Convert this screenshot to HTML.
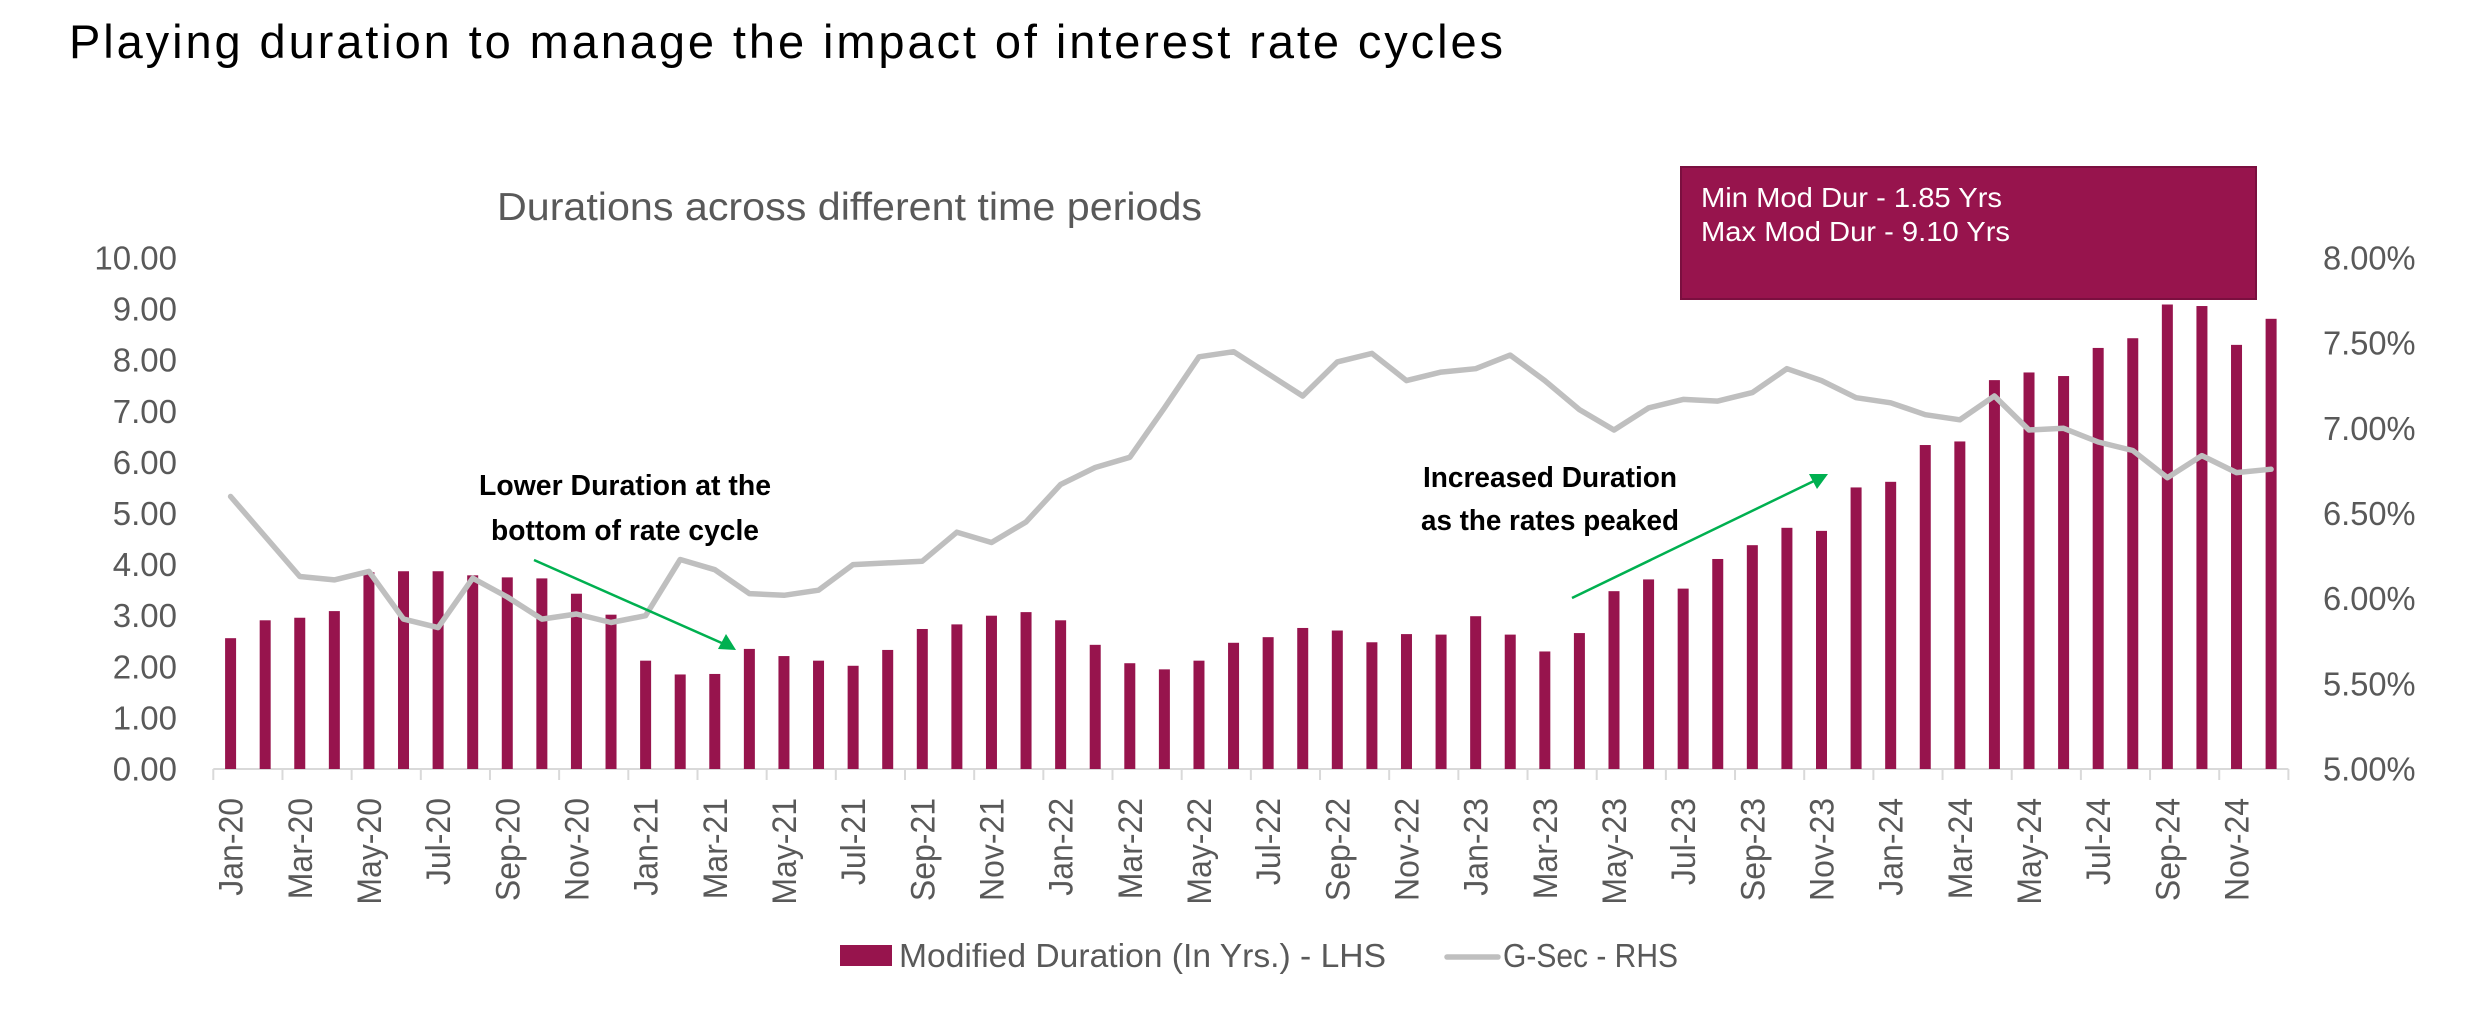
<!DOCTYPE html>
<html lang="en">
<head>
<meta charset="utf-8">
<title>Playing duration to manage the impact of interest rate cycles</title>
<style>
html,body{margin:0;padding:0;background:#fff;width:2490px;height:1020px;overflow:hidden}
svg{display:block}
text{font-family:"Liberation Sans",sans-serif}
</style>
</head>
<body>
<svg id="chart" width="2490" height="1020" viewBox="0 0 2490 1020" xmlns="http://www.w3.org/2000/svg">
  <text x="69" y="58" font-size="47" fill="#000" textLength="1434">Playing duration to manage the impact of interest rate cycles</text>
  <text x="497" y="220" font-size="39" fill="#595959" textLength="705" lengthAdjust="spacingAndGlyphs">Durations across different time periods</text>
  <g id="axes"></g>
  <g id="bars"></g>
  <g id="line"></g>

  <rect x="1681" y="167" width="575" height="132" fill="#97144d" stroke="#7a0f3f" stroke-width="2"/>
  <text x="1701" y="207" font-size="28" fill="#fff" textLength="301" lengthAdjust="spacingAndGlyphs">Min Mod Dur - 1.85 Yrs</text>
  <text x="1701" y="241" font-size="28" fill="#fff" textLength="309" lengthAdjust="spacingAndGlyphs">Max Mod Dur - 9.10 Yrs</text>

  <text x="479" y="495" font-size="29" font-weight="bold" fill="#000" textLength="292" lengthAdjust="spacingAndGlyphs">Lower Duration at the</text>
  <text x="491" y="540" font-size="29" font-weight="bold" fill="#000" textLength="268" lengthAdjust="spacingAndGlyphs">bottom of rate cycle</text>
  <line x1="534" y1="560" x2="724" y2="644" stroke="#00b050" stroke-width="2.5"/>
  <polygon points="736,650 718,649 726,634" fill="#00b050"/>

  <text x="1423" y="487" font-size="29" font-weight="bold" fill="#000" textLength="254" lengthAdjust="spacingAndGlyphs">Increased Duration</text>
  <text x="1421" y="530" font-size="29" font-weight="bold" fill="#000" textLength="258" lengthAdjust="spacingAndGlyphs">as the rates peaked</text>
  <line x1="1572" y1="598" x2="1816" y2="480" stroke="#00b050" stroke-width="2.5"/>
  <polygon points="1828,474 1817,489 1809,474" fill="#00b050"/>

  <g>
    <rect x="840" y="945" width="52" height="21" fill="#97144d"/>
    <text x="899" y="967" font-size="33" fill="#595959" textLength="487" lengthAdjust="spacingAndGlyphs">Modified Duration (In Yrs.) - LHS</text>
    <line x1="1447" y1="957" x2="1498" y2="957" stroke="#bfbfbf" stroke-width="5.5" stroke-linecap="round"/>
    <text x="1503" y="967" font-size="33" fill="#595959" textLength="175" lengthAdjust="spacingAndGlyphs">G-Sec - RHS</text>
  </g>
</svg>
<script>
const categories = [
  "Jan-20","Feb-20","Mar-20","Apr-20","May-20","Jun-20","Jul-20","Aug-20","Sep-20","Oct-20","Nov-20","Dec-20",
  "Jan-21","Feb-21","Mar-21","Apr-21","May-21","Jun-21","Jul-21","Aug-21","Sep-21","Oct-21","Nov-21","Dec-21",
  "Jan-22","Feb-22","Mar-22","Apr-22","May-22","Jun-22","Jul-22","Aug-22","Sep-22","Oct-22","Nov-22","Dec-22",
  "Jan-23","Feb-23","Mar-23","Apr-23","May-23","Jun-23","Jul-23","Aug-23","Sep-23","Oct-23","Nov-23","Dec-23",
  "Jan-24","Feb-24","Mar-24","Apr-24","May-24","Jun-24","Jul-24","Aug-24","Sep-24","Oct-24","Nov-24","Dec-24"
];
const modifiedDuration = [
  2.56,2.91,2.96,3.09,3.85,3.87,3.87,3.79,3.75,3.73,3.43,3.02,
  2.12,1.85,1.86,2.35,2.21,2.12,2.02,2.33,2.74,2.83,3.00,3.07,
  2.91,2.43,2.07,1.95,2.12,2.47,2.58,2.76,2.71,2.48,2.64,2.63,
  2.99,2.63,2.30,2.66,3.48,3.71,3.53,4.11,4.38,4.72,4.66,5.51,
  5.62,6.34,6.41,7.61,7.76,7.69,8.24,8.43,9.09,9.06,8.30,8.81
];
const gSecYield = [
  6.60,6.365,6.13,6.11,6.16,5.88,5.83,6.12,6.01,5.88,5.91,5.86,
  5.90,6.23,6.17,6.03,6.02,6.05,6.20,6.21,6.22,6.39,6.33,6.45,
  6.67,6.77,6.83,7.12,7.42,7.45,7.32,7.19,7.39,7.44,7.28,7.33,
  7.35,7.43,7.28,7.11,6.99,7.12,7.17,7.16,7.21,7.35,7.28,7.18,
  7.15,7.08,7.05,7.19,6.99,7.00,6.92,6.87,6.71,6.84,6.74,6.76
];
const leftTicks = [0,1,2,3,4,5,6,7,8,9,10];
const rightTicks = [5,5.5,6,6.5,7,7.5,8];

const NS = "http://www.w3.org/2000/svg";
const plot = {left:213.3, right:2288.4, top:258, bottom:769};
const band = (plot.right - plot.left) / categories.length;
function xScale(i){ return plot.left + band * (i + 0.5); }
function yLeft(v){ return plot.bottom - (v - 0) / (10 - 0) * (plot.bottom - plot.top); }
function yRight(v){ return plot.bottom - (v - 5) / (8 - 5) * (plot.bottom - plot.top); }

function make(tag, attrs, parent){
  const el = document.createElementNS(NS, tag);
  for (const k in attrs) el.setAttribute(k, attrs[k]);
  parent.appendChild(el);
  return el;
}
function stretch(el, factor){
  el.setAttribute('textLength', (el.getComputedTextLength() * factor).toFixed(1));
  el.setAttribute('lengthAdjust', 'spacingAndGlyphs');
}

const axes = document.getElementById('axes');
const bars = document.getElementById('bars');
const lineGroup = document.getElementById('line');

const axisLine = make('line', {x1:plot.left, y1:plot.bottom, x2:plot.right, y2:plot.bottom, stroke:'#d9d9d9', 'stroke-width':2}, axes);



leftTicks.forEach(function(v){
  const t = make('text', {x:177, y:yLeft(v) + 11.5, 'text-anchor':'end', 'font-size':33, fill:'#595959'}, axes);
  t.textContent = v.toFixed(2);
  
  
  stretch(t, 1.0);
});
rightTicks.forEach(function(v){
  const t = make('text', {x:2323, y:yRight(v) + 11.5, 'font-size':33, fill:'#595959'}, axes);
  t.textContent = v.toFixed(2) + '%';
  
  
  stretch(t, 0.99);
});
categories.forEach(function(c, i){
  if (i % 2 === 0) {
    const tick = make('line', {x1:plot.left + band * i, y1:plot.bottom, x2:plot.left + band * i, y2:plot.bottom + 11, stroke:'#d9d9d9', 'stroke-width':2}, axes);
    
    
    const cx = xScale(i);
    const lbl = make('text', {transform:'translate(' + (cx + 12) + ',798) rotate(-90)', 'text-anchor':'end', 'font-size':34, fill:'#595959'}, axes);
    lbl.textContent = c;
    
    
    stretch(lbl, 0.94);
  }
});
const lastTick = make('line', {x1:plot.right, y1:plot.bottom, x2:plot.right, y2:plot.bottom + 11, stroke:'#d9d9d9', 'stroke-width':2}, axes);



modifiedDuration.forEach(function(v, i){
  const y = yLeft(v);
  const bar = make('rect', {x:xScale(i) - 5.5, y:y, width:11, height:plot.bottom - y, fill:'#97144d'}, bars);
  
  
});

const linePath = make('polyline', {
  points: gSecYield.map(function(v, i){ return xScale(i).toFixed(1) + ',' + yRight(v).toFixed(1); }).join(' '),
  fill:'none', stroke:'#bfbfbf', 'stroke-width':5.5, 'stroke-linejoin':'round', 'stroke-linecap':'round'
}, lineGroup);


</script>
</body>
</html>
